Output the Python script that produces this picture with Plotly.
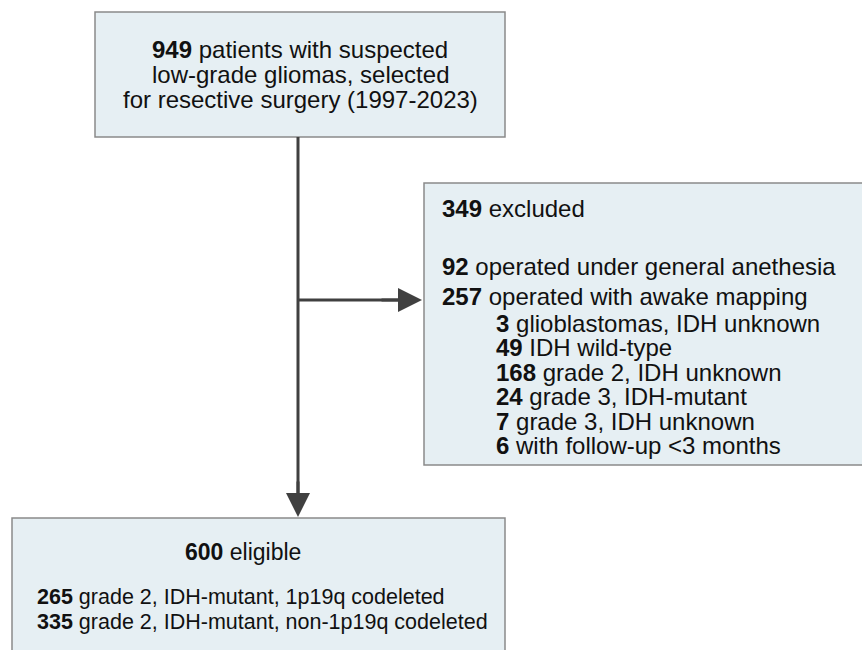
import plotly.graph_objects as go

# ---- data ----
top_count = 949
top_lines = ["patients with suspected", "low-grade gliomas, selected", "for resective surgery (1997-2023)"]
excluded_count = 349
excluded_label = "excluded"
exclusion_counts = [92, 257]
exclusion_labels = ["operated under general anethesia", "operated with awake mapping"]
awake_counts = [3, 49, 168, 24, 7, 6]
awake_labels = ["glioblastomas, IDH unknown", "IDH wild-type", "grade 2, IDH unknown",
                "grade 3, IDH-mutant", "grade 3, IDH unknown", "with follow-up <3 months"]
eligible_count = 600
eligible_label = "eligible"
eligible_counts = [265, 335]
eligible_labels = ["grade 2, IDH-mutant, 1p19q codeleted", "grade 2, IDH-mutant, non-1p19q codeleted"]

FILL = "#e6eff3"
BORDER = "#8a8a8a"
LINE = "#404040"
FONT = "Liberation Sans, Arial, sans-serif"
FS = 24

fig = go.Figure()
shapes = []
ann = []

def box(x0, y0, x1, y1):
    shapes.append(dict(type="rect", xref="x", yref="y", x0=x0, y0=y0, x1=x1, y1=y1,
                       fillcolor=FILL, line=dict(color=BORDER, width=1.5), layer="below"))

def text(x, y, s, anchor="left", size=FS, family=FONT):
    ann.append(dict(x=x, y=y, xref="x", yref="y", text=s, showarrow=False,
                    xanchor=anchor, yanchor="middle", font=dict(family=family, size=size, color="#111111")))

# boxes
box(95, 12, 505, 137)
box(424, 183, 875, 465)
box(12, 518, 505, 670)

# connector lines
shapes.append(dict(type="line", xref="x", yref="y", x0=298, y0=137, x1=298, y1=500,
                   line=dict(color=LINE, width=3)))
shapes.append(dict(type="line", xref="x", yref="y", x0=298, y0=300, x1=405, y1=300,
                   line=dict(color=LINE, width=3)))
# arrowheads via annotations
ann.append(dict(x=298, y=517, ax=298, ay=480, xref="x", yref="y", axref="x", ayref="y",
                text="", showarrow=True, arrowhead=2, arrowsize=1.6, arrowwidth=3, arrowcolor=LINE))
ann.append(dict(x=422, y=300, ax=380, ay=300, xref="x", yref="y", axref="x", ayref="y",
                text="", showarrow=True, arrowhead=2, arrowsize=1.6, arrowwidth=3, arrowcolor=LINE))

# top box text
tops = [f"<b>{top_count}</b> {top_lines[0]}", top_lines[1], top_lines[2]]
for i, s in enumerate(tops):
    text(300, 49 + i * 25, s, anchor="center")

# right box
text(440, 208, f"<b>{excluded_count}</b> {excluded_label}")
for i, (c, l) in enumerate(zip(exclusion_counts, exclusion_labels)):
    text(440, 266 + i * 30, f"<b>{c}</b> {l}")
for i, (c, l) in enumerate(zip(awake_counts, awake_labels)):
    text(494, 323 + i * 24.5, f"<b>{c}</b> {l}")

# bottom box
text(243, 552, f"<b>{eligible_count}</b> {eligible_label}", anchor="center", size=23)
for i, (c, l) in enumerate(zip(eligible_counts, eligible_labels)):
    text(35, 597 + i * 25, f"<b>{c}</b> {l}", size=21.5)

fig.update_layout(
    width=862, height=650, margin=dict(l=0, r=0, t=0, b=0),
    paper_bgcolor="white", plot_bgcolor="white",
    xaxis=dict(range=[0, 862], visible=False, fixedrange=True),
    yaxis=dict(range=[650, 0], visible=False, fixedrange=True),
    shapes=shapes, annotations=ann, showlegend=False,
)
fig.write_html("out.html", config={"displayModeBar": False},
               post_script="document.body.style.margin='0';document.body.style.overflow='hidden';")
